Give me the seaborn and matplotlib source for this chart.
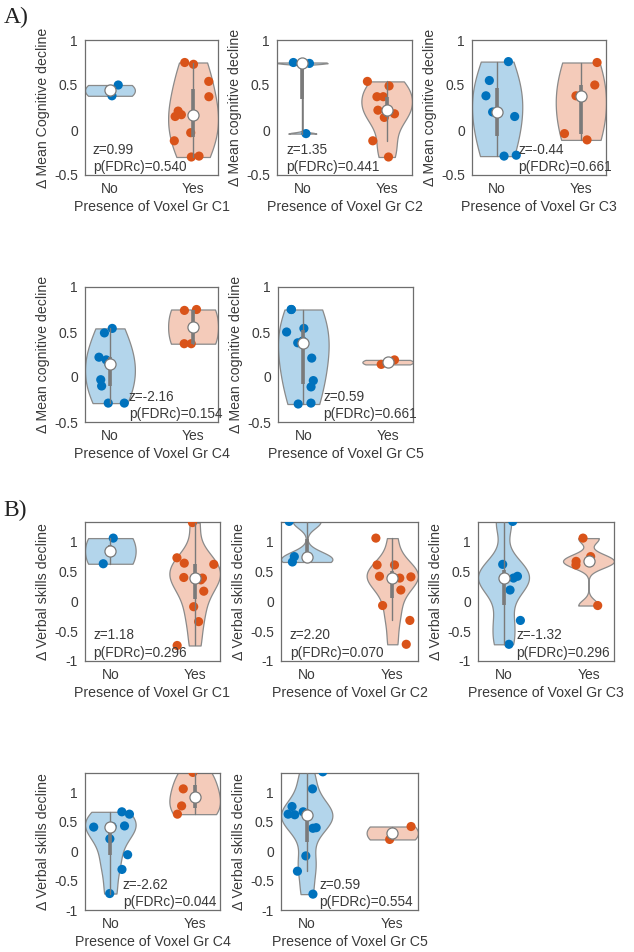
import matplotlib
matplotlib.use("Agg")
import matplotlib.pyplot as plt
import numpy as np
import pandas as pd
import seaborn as sns
from matplotlib.cbook import boxplot_stats

# A) mean cognitive decline, No / Yes per voxel group
cog_c1_no = [0.38, 0.50]
cog_c1_yes = [0.75, 0.73, 0.54, 0.37, 0.21, 0.17, 0.15, -0.03, -0.12, -0.30, -0.29]
cog_c2_no = [0.75, 0.74, -0.04]
cog_c2_yes = [0.54, 0.49, 0.37, 0.37, 0.22, 0.18, 0.14, -0.12, -0.30]
cog_c3_no = [0.76, 0.55, 0.38, 0.20, 0.15, -0.28, -0.29]
cog_c3_yes = [0.75, 0.50, 0.38, -0.04, -0.11]
cog_c4_no = [0.54, 0.49, 0.22, 0.19, 0.15, -0.03, -0.10, -0.29, -0.29]
cog_c4_yes = [0.75, 0.74, 0.37, 0.37]
cog_c5_no = [0.75, 0.75, 0.54, 0.50, 0.40, 0.38, 0.21, -0.04, -0.11, -0.29, -0.30]
cog_c5_yes = [0.19, 0.14]
cog_z = ["0.99", "1.35", "-0.44", "-2.16", "0.59"]
cog_p = ["0.540", "0.441", "0.661", "0.154", "0.661"]

# B) verbal skills decline
verb_c1_no = [1.06, 0.63]
verb_c1_yes = [1.32, 0.73, 0.64, 0.62, 0.40, 0.39, 0.36, 0.17, -0.09, -0.34, -0.74]
verb_c2_no = [1.34, 0.75, 0.66]
verb_c2_yes = [1.06, 0.61, 0.61, 0.42, 0.41, 0.39, 0.39, 0.19, -0.07, -0.32, -0.72]
verb_c3_no = [1.34, 0.62, 0.42, 0.39, 0.19, -0.32, -0.72]
verb_c3_yes = [1.06, 0.75, 0.67, 0.61, -0.07]
verb_c4_no = [0.67, 0.63, 0.43, 0.42, 0.41, 0.21, -0.06, -0.31, -0.72]
verb_c4_yes = [1.34, 1.06, 0.77, 0.63]
verb_c5_no = [1.35, 1.06, 0.76, 0.67, 0.63, 0.62, 0.40, 0.39, -0.08, -0.34, -0.73]
verb_c5_yes = [0.42, 0.20]
verb_z = ["1.18", "2.20", "-1.32", "-2.62", "0.59"]
verb_p = ["0.296", "0.070", "0.296", "0.044", "0.554"]

groups = ["No", "Yes"]
dot_colors = {"No": "#0072BD", "Yes": "#D95319"}
fill_colors = {"No": "#B3D5EB", "Yes": "#F4CBBA"}
edge_gray = "#8a8a8a"
text_col = "#3a3a3a"


def matlab_bw(kde):
    # ksdensity-style robust bandwidth, turned into a factor for gaussian_kde
    x = np.asarray(kde.dataset).ravel()
    sig = np.median(np.abs(x - np.median(x))) / 0.6745
    h = sig * (4 / (3 * len(x))) ** 0.2
    sd = np.std(x, ddof=1)
    if sd == 0 or h == 0:
        return 0.5
    return h / sd


def draw_panel(ax, no_vals, yes_vals, ylabel, xlabel, z, p, tx, ylim, yticks):
    df = pd.DataFrame({
        "group": ["No"] * len(no_vals) + ["Yes"] * len(yes_vals),
        "value": list(no_vals) + list(yes_vals),
    })
    sns.violinplot(
        data=df, x="group", y="value", hue="group", order=groups, hue_order=groups,
        palette=fill_colors, saturation=1, cut=0, inner=None, density_norm="width",
        width=0.6, linecolor=edge_gray, linewidth=0.9, bw_method=matlab_bw,
        legend=False, ax=ax,
    )
    sns.stripplot(
        data=df, x="group", y="value", hue="group", order=groups, hue_order=groups,
        palette=dot_colors, jitter=0.24, size=6.6, linewidth=0, legend=False,
        ax=ax, zorder=3,
    )
    for i, vals in enumerate([no_vals, yes_vals]):
        st = boxplot_stats(np.array(vals))[0]
        ax.plot([i, i], [st["whislo"], st["whishi"]], color="#7a7a7a", lw=1.0, zorder=4)
        ax.plot([i, i], [st["q1"], st["q3"]], color="#7a7a7a", lw=2.6,
                solid_capstyle="butt", zorder=4)
        ax.plot(i, st["med"], "o", mfc="white", mec="#7a7a7a", mew=0.9, ms=8, zorder=5)

    ax.set_xlim(-0.3, 1.3)
    ax.set_ylim(*ylim)
    ax.set_yticks(yticks)
    ax.set_yticklabels([f"{t:g}" for t in yticks])
    ax.set_xlabel(xlabel, fontsize=10.2, color=text_col, labelpad=3)
    ax.set_ylabel(ylabel, fontsize=10.2, color=text_col, labelpad=3)
    ax.tick_params(direction="in", length=2.5, pad=5, labelsize=10,
                   colors=text_col, width=0.6)
    for s in ax.spines.values():
        s.set_visible(True)
        s.set_color("#6e6e6e")
        s.set_linewidth(0.9)
    ax.text(tx, 0.185, f"z={z}", transform=ax.transAxes, fontsize=9.8,
            color=text_col, va="center", ha="left")
    ax.text(tx, 0.06, f"p(FDRc)={p}", transform=ax.transAxes, fontsize=9.8,
            color=text_col, va="center", ha="left")


sns.set_theme(style="white")
plt.rcParams["font.family"] = ["Liberation Sans", "DejaVu Sans"]
np.random.seed(3)

W, H = 634, 952
fig = plt.figure(figsize=(W / 100, H / 100), dpi=100)


def add_ax(left, top, width, bottom):
    return fig.add_axes([left / W, 1 - bottom / H, width / W, (bottom - top) / H])


cog_data = [(cog_c1_no, cog_c1_yes), (cog_c2_no, cog_c2_yes), (cog_c3_no, cog_c3_yes),
            (cog_c4_no, cog_c4_yes), (cog_c5_no, cog_c5_yes)]
verb_data = [(verb_c1_no, verb_c1_yes), (verb_c2_no, verb_c2_yes), (verb_c3_no, verb_c3_yes),
             (verb_c4_no, verb_c4_yes), (verb_c5_no, verb_c5_yes)]

cog_pos = [(85, 40, 133, 175), (277, 40, 135, 175), (472, 40, 134, 175),
           (85, 287, 133, 422), (278, 287, 135, 422)]
verb_pos = [(85, 522, 135, 661), (281, 522, 137, 661), (478, 522, 136, 661),
            (85, 773, 135, 910), (281, 773, 137, 910)]
cog_tx = [0.06, 0.07, 0.345, 0.33, 0.335]
verb_tx = [0.06, 0.065, 0.28, 0.28, 0.28]

for k in range(5):
    ax = add_ax(*cog_pos[k])
    ylab = "Δ Mean Cognitive decline" if k == 0 else "Δ Mean cognitive decline"
    draw_panel(ax, cog_data[k][0], cog_data[k][1], ylab, f"Presence of Voxel Gr C{k + 1}",
               cog_z[k], cog_p[k], cog_tx[k], (-0.5, 1.0), [-0.5, 0, 0.5, 1])

for k in range(5):
    ax = add_ax(*verb_pos[k])
    draw_panel(ax, verb_data[k][0], verb_data[k][1], "Δ Verbal skills decline",
               f"Presence of Voxel Gr C{k + 1}", verb_z[k], verb_p[k], verb_tx[k],
               (-1.0, 1.33), [-1, -0.5, 0, 0.5, 1])

fig.text(0.006, 0.982, "A)", family="Liberation Serif", fontsize=17, color="#222222",
         va="center", ha="left")
fig.text(0.006, 0.464, "B)", family="Liberation Serif", fontsize=17, color="#222222",
         va="center", ha="left")

fig.savefig("out.png", dpi=100)
plt.close(fig)
